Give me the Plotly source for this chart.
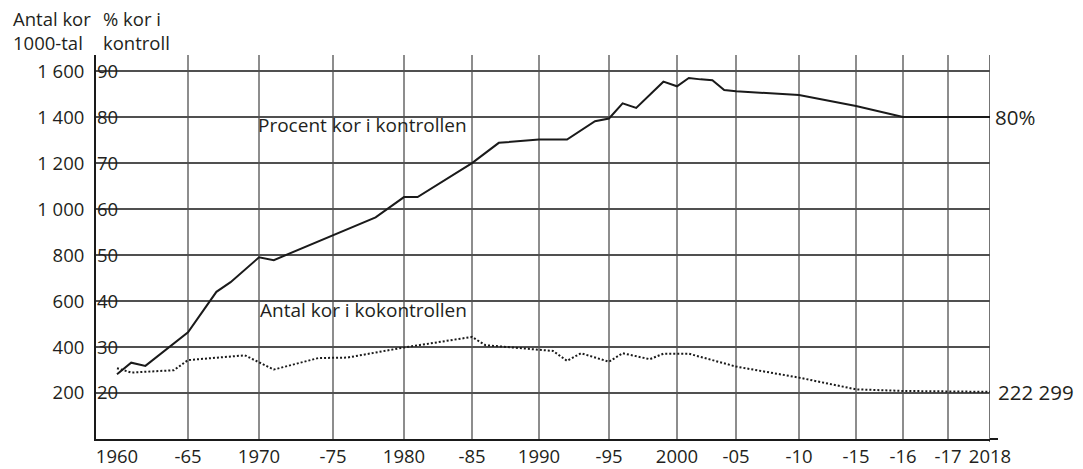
import numpy as np
import plotly.graph_objects as go

# ---------------- data ----------------
tick_years = [1960, 1965, 1970, 1975, 1980, 1985, 1990, 1995, 2000, 2005, 2010, 2015, 2016, 2017, 2018]
tick_labels = ["1960", "-65", "1970", "-75", "1980", "-85", "1990", "-95", "2000",
               "-05", "-10", "-15", "-16", "-17", "2018"]

# Procent kor i kontrollen (%)
pct_years = [1960, 1961, 1962, 1965, 1967, 1968, 1970, 1971, 1978, 1980, 1981, 1985, 1987,
             1990, 1992, 1994, 1995, 1996, 1997, 1999, 2000, 2001, 2002, 2003, 2004, 2005,
             2010, 2015, 2016, 2017, 2018]
pct_values = [24.1, 26.6, 25.9, 33.2, 42.0, 44.1, 49.5, 48.9, 58.2, 62.6, 62.6, 70.0, 74.4,
              75.1, 75.1, 79.1, 79.7, 83.0, 82.0, 87.7, 86.7, 88.5, 88.2, 88.0, 85.9, 85.6,
              84.8, 82.4, 80.0, 80.0, 80.0]

# Antal kor i kokontrollen (1000-tal)
cow_years = [1960, 1961, 1964, 1965, 1969, 1971, 1974, 1976, 1980, 1985, 1986, 1990, 1991,
             1992, 1993, 1995, 1996, 1998, 1999, 2001, 2005, 2010, 2015, 2016, 2017, 2018]
cow_values = [308, 289, 299, 343, 364, 302, 352, 354, 398, 444, 408, 386, 383,
              340, 373, 336, 373, 347, 371, 371, 315, 267, 216, 209, 207, 205]

count_ticks = [200, 400, 600, 800, 1000, 1200, 1400, 1600]
count_tick_text = ["200", "400", "600", "800", "1 000", "1 200", "1 400", "1 600"]
pct_ticks = [20, 30, 40, 50, 60, 70, 80, 90]

# ---------------- layout (positions / styles) ----------------
W, H = 1083, 469
ML, MR, MT, MB = 96, 93, 55, 30
PW, PH = W - ML - MR, H - MT - MB
# horizontal position of each year label on the (uneven) time axis
tick_pos = [117, 188, 259, 333, 404, 472, 539, 609, 677, 736, 799, 856, 903, 948, 990]
x_range = [96, 990]
y_range = [0, 1670]
y2_range = [10 + y_range[0] / 20, 10 + y_range[1] / 20]

FONT = "Open Sans"
FS_TICK = 18.5
FS_TXT = 19
FS_END = 20.5
TXT = "#231f20"


def to_pos(years):
    return np.interp(years, tick_years, tick_pos)


fig = go.Figure()

fig.add_trace(go.Scatter(
    x=to_pos(cow_years), y=cow_values, mode="lines",
    line=dict(color="#1a1a1a", width=2, dash="2px,2px"),
    hoverinfo="skip", showlegend=False, yaxis="y"))

fig.add_trace(go.Scatter(
    x=to_pos(pct_years), y=pct_values, mode="lines",
    line=dict(color="#1a1a1a", width=2),
    hoverinfo="skip", showlegend=False, yaxis="y2"))

shapes = []
for i, p in enumerate(tick_pos[1:]):
    last = (i == len(tick_pos) - 2)
    shapes.append(dict(type="line", xref="x", yref="paper", x0=p, x1=p,
                       y0=-0.008 if last else 0, y1=1,
                       line=dict(color="#2a2a2a" if last else "#505050", width=1.3),
                       layer="below"))
# baseline runs a little past the last year
shapes.append(dict(type="line", xref="paper", yref="paper", x0=1, x1=1 + 8 / PW,
                   y0=0, y1=0, line=dict(color="#1a1a1a", width=2)))

annotations = [
    dict(text="Antal kor<br>1000-tal", xref="paper", yref="paper",
         x=(11 - ML) / PW, y=(H - MB - 30.5) / PH,
         xanchor="left", yanchor="middle", align="left", showarrow=False,
         font=dict(family=FONT, size=18.5, color=TXT)),
    dict(text="% kor i<br>kontroll", xref="paper", yref="paper",
         x=(101 - ML) / PW, y=(H - MB - 30.5) / PH,
         xanchor="left", yanchor="middle", align="left", showarrow=False,
         font=dict(family=FONT, size=18.5, color=TXT)),
    dict(text="Procent kor i kontrollen", xref="x", yref="y", x=256, y=1366,
         xanchor="left", yanchor="middle", showarrow=False,
         font=dict(family=FONT, size=FS_TXT, color=TXT)),
    dict(text="Antal kor i kokontrollen", xref="x", yref="y", x=258, y=561,
         xanchor="left", yanchor="middle", showarrow=False,
         font=dict(family=FONT, size=FS_TXT, color=TXT)),
    dict(text="80%", xref="paper", yref="y2", x=1, xshift=3, y=pct_values[-1],
         xanchor="left", yanchor="middle", showarrow=False,
         font=dict(family=FONT, size=FS_END, color=TXT)),
    dict(text="222 299", xref="paper", yref="y", x=1, xshift=6, y=cow_values[-1],
         xanchor="left", yanchor="middle", showarrow=False,
         font=dict(family=FONT, size=FS_END, color=TXT)),
]

fig.update_layout(
    width=W, height=H,
    margin=dict(l=ML, r=MR, t=MT, b=MB, pad=0),
    paper_bgcolor="white", plot_bgcolor="white",
    font=dict(family=FONT, size=FS_TICK, color=TXT),
    showlegend=False,
    shapes=shapes,
    annotations=annotations,
    xaxis=dict(range=x_range, domain=[0, 1], tickmode="array", tickvals=tick_pos,
               ticktext=tick_labels, showgrid=False, zeroline=False, showline=True,
               linecolor="#1a1a1a", linewidth=2, ticks="", fixedrange=True,
               automargin=False, tickfont=dict(family=FONT, size=FS_TICK, color=TXT)),
    yaxis=dict(range=y_range, tickmode="array", tickvals=count_ticks, ticktext=count_tick_text,
               showgrid=True, gridcolor="#505050", gridwidth=1.3, zeroline=False,
               showline=True, linecolor="#1a1a1a", linewidth=2, ticks="",
               ticklabelstandoff=6, fixedrange=True, automargin=False,
               tickfont=dict(family=FONT, size=FS_TICK, color=TXT)),
    yaxis2=dict(range=y2_range, overlaying="y", side="right", anchor="free", position=0,
                tickmode="array", tickvals=pct_ticks, showgrid=False, zeroline=False,
                showline=False, ticks="", ticklabelstandoff=0, fixedrange=True,
                automargin=False, tickfont=dict(family=FONT, size=FS_TICK, color=TXT)),
)

fig.write_html("out.html", config={"displayModeBar": False, "staticPlot": True},
               post_script="document.body.style.margin='0px';")
